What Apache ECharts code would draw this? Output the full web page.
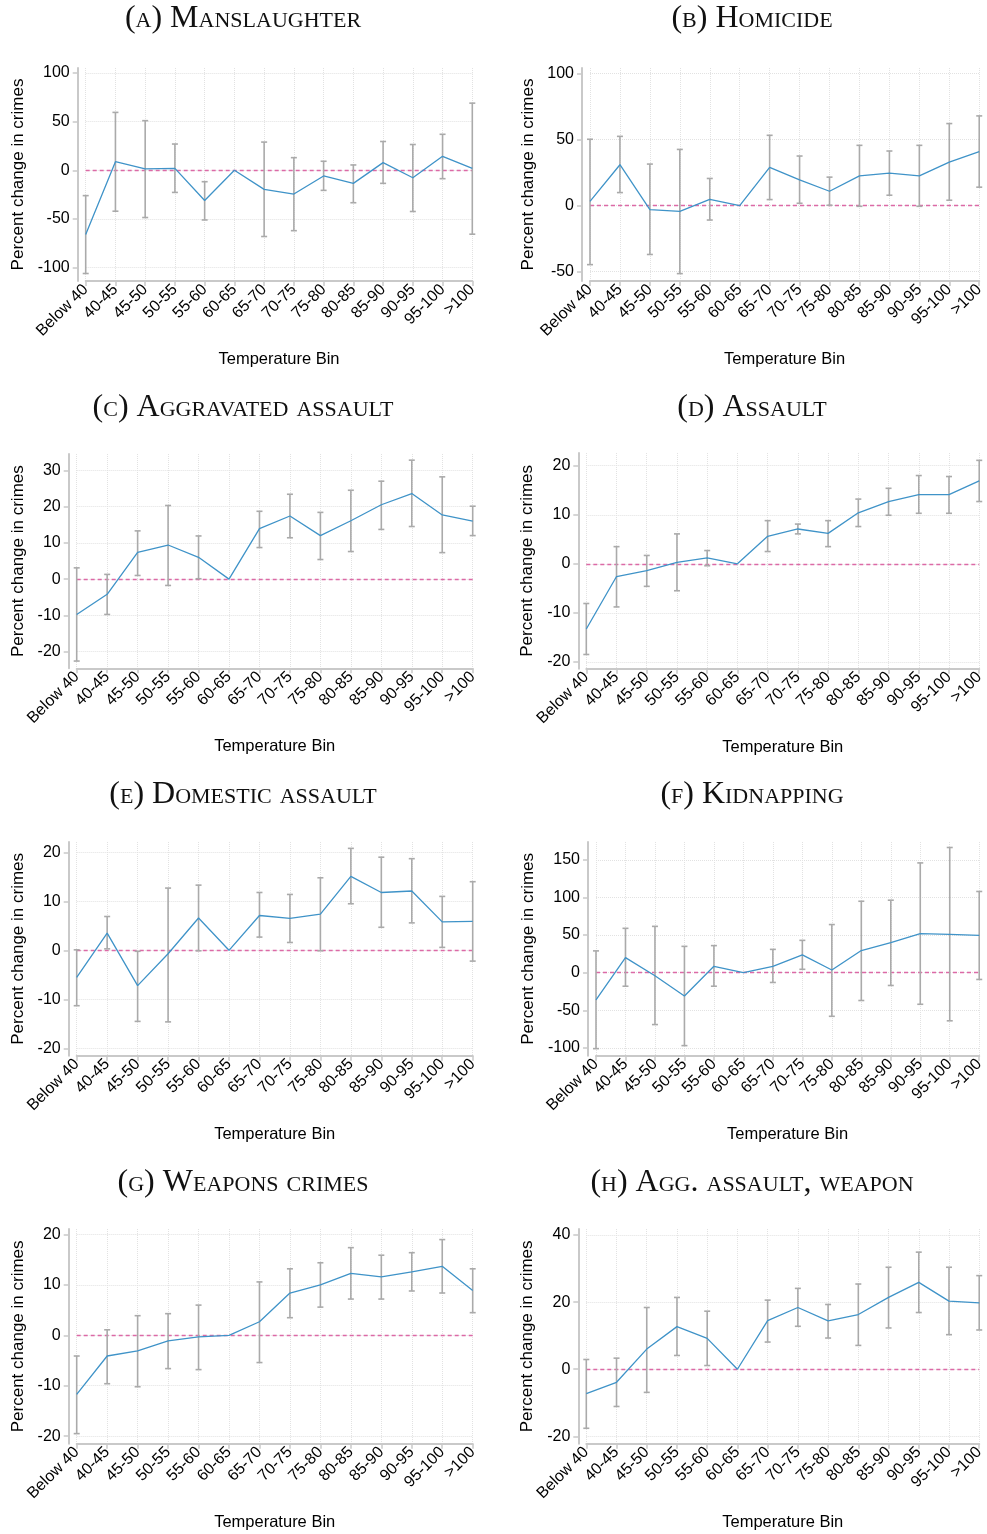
<!DOCTYPE html>
<html>
<head>
<meta charset="utf-8">
<script src="https://cdn.jsdelivr.net/npm/echarts@6/dist/echarts.min.js"></script>
<style>
html,body{margin:0;padding:0;background:#fff;}
#chart{width:987px;height:1534px;}
</style>
</head>
<body>
<div id="chart"></div>
<script>
// ---------- DATA ----------
const categories = ['Below 40','40-45','45-50','50-55','55-60','60-65','65-70','70-75','75-80','80-85','85-90','90-95','95-100','>100'];

const panelTitles = ['(a) Manslaughter','(b) Homicide','(c) Aggravated assault','(d) Assault',
                     '(e) Domestic assault','(f) Kidnapping','(g) Weapons crimes','(h) Agg. assault, weapon'];
const yAxisTitle = 'Percent change in crimes';
const xAxisTitle = 'Temperature Bin';

// (a) Manslaughter
const manslaughterEst = [-66, 8.9, 1.4, 2, -31, 0, -19.6, -24.4, -5.8, -13.4, 7.9, -7.6, 14.4, 2];
const manslaughterLo  = [-106, -42, -48.5, -22.7, -51, null, -68, -62, -20.6, -33.3, -13.4, -42.3, -8.6, -65.6];
const manslaughterHi  = [-26, 59.5, 51, 27, -11.7, null, 29, 13, 9.3, 5.5, 29.6, 26.5, 37, 69];
const manslaughterTicks = [-100, -50, 0, 50, 100];

// (b) Homicide
const homicideEst = [3.3, 31, -3, -4.3, 4.8, 0, 29, 19.5, 10.9, 22.6, 24.6, 22.6, 33, 40.9];
const homicideLo  = [-44.7, 9.9, -37, -51.5, -10.9, null, 4.6, 1.8, 0.3, -0.5, 7.9, -0.5, 4.1, 14];
const homicideHi  = [50.3, 52.5, 31.5, 42.6, 20.6, null, 53.3, 37.6, 21.6, 45.7, 41.4, 45.7, 62.2, 68];
const homicideTicks = [-50, 0, 50, 100];

// (c) Aggravated assault
const aggAssaultEst = [-9.75, -4.2, 7.4, 9.4, 6, 0, 13.9, 17.4, 12, 16.1, 20.5, 23.6, 17.7, 16];
const aggAssaultLo  = [-22.6, -9.75, 1.0, -1.75, 0.1, null, 8.7, 11.4, 5.4, 7.6, 13.7, 14.5, 7.3, 12];
const aggAssaultHi  = [3.1, 1.3, 13.3, 20.3, 11.9, null, 18.7, 23.4, 18.4, 24.5, 27, 32.8, 28.2, 20.1];
const aggAssaultTicks = [-20, -10, 0, 10, 20, 30];

// (d) Assault
const assaultEst = [-13.3, -2.6, -1.4, 0.3, 1.2, 0, 5.6, 7.1, 6.2, 10.4, 12.7, 14.1, 14.1, 16.9];
const assaultLo  = [-18.5, -8.8, -4.6, -5.5, -0.4, null, 2.5, 6.1, 3.5, 7.6, 9.9, 10.3, 10.3, 12.7];
const assaultHi  = [-8.1, 3.5, 1.7, 6.1, 2.7, null, 8.8, 8.1, 8.8, 13.2, 15.4, 18, 17.8, 21.1];
const assaultTicks = [-20, -10, 0, 10, 20];

// (e) Domestic assault
const domesticEst = [-5.5, 3.5, -7.2, -0.7, 6.6, 0, 7.1, 6.5, 7.4, 15.1, 11.8, 12.1, 5.8, 5.9];
const domesticLo  = [-11.3, 0.3, -14.5, -14.6, -0.1, null, 2.7, 1.6, -0.1, 9.5, 4.7, 5.6, 0.6, -2.2];
const domesticHi  = [0.1, 6.9, -0.2, 12.7, 13.3, null, 11.8, 11.4, 14.8, 20.8, 19, 18.7, 11, 14];
const domesticTicks = [-20, -10, 0, 10, 20];

// (f) Kidnapping
const kidnappingEst = [-36, 20, -4, -31, 8.5, 0, 8.5, 23.7, 3.6, 29.5, 40, 52, 51, 49.5];
const kidnappingLo  = [-101, -18, -69, -97, -18, null, -13, 4.5, -58, -37, -17, -42, -64, -9];
const kidnappingHi  = [29, 59, 61.6, 35, 36, null, 31, 43, 64, 95, 96.4, 146, 166.5, 108];
const kidnappingTicks = [-100, -50, 0, 50, 100, 150];

// (g) Weapons crimes
const weaponsEst = [-11.7, -4.1, -3.1, -1.1, -0.3, 0, 2.7, 8.4, 10, 12.3, 11.6, 12.6, 13.7, 8.9];
const weaponsLo  = [-19.5, -9.6, -10.2, -6.6, -6.8, null, -5.4, 3.5, 5.6, 7.2, 7.2, 8.8, 8.4, 4.5];
const weaponsHi  = [-4.1, 1.1, 3.9, 4.3, 6, null, 10.6, 13.2, 14.4, 17.4, 15.9, 16.4, 19, 13.2];
const weaponsTicks = [-20, -10, 0, 10, 20];

// (h) Agg. assault, weapon
const aggWeaponEst = [-7.3, -3.9, 6, 12.7, 9.2, 0, 14.5, 18.4, 14.4, 16.3, 21.4, 25.9, 20.3, 19.8];
const aggWeaponLo  = [-17.6, -11.1, -6.9, 4.1, 1.1, null, 8.1, 12.8, 9.3, 7.1, 12.3, 16.9, 10.3, 11.7];
const aggWeaponHi  = [2.9, 3.3, 18.4, 21.4, 17.3, null, 20.6, 24.1, 19.3, 25.4, 30.4, 34.9, 30.4, 27.9];
const aggWeaponTicks = [-20, 0, 20, 40];

const panelEst = [manslaughterEst, homicideEst, aggAssaultEst, assaultEst, domesticEst, kidnappingEst, weaponsEst, aggWeaponEst];
const panelLo  = [manslaughterLo, homicideLo, aggAssaultLo, assaultLo, domesticLo, kidnappingLo, weaponsLo, aggWeaponLo];
const panelHi  = [manslaughterHi, homicideHi, aggAssaultHi, assaultHi, domesticHi, kidnappingHi, weaponsHi, aggWeaponHi];
const panelTicks = [manslaughterTicks, homicideTicks, aggAssaultTicks, assaultTicks, domesticTicks, kidnappingTicks, weaponsTicks, aggWeaponTicks];

// ---------- LAYOUT (positions / axis extents) ----------
const layout = [
  {left: 85.7, right: 514.7, top: 68,   height: 213,   ymin: -113.7, ymax: 105.1, yGap: 51, tx: 243, ty: 19},
  {left: 590,  right: 4.7,   top: 68,   height: 213,   ymin: -57.1,  ymax: 104.3, yGap: 45, tx: 752, ty: 19},
  {left: 76.7, right: 514.3, top: 454,  height: 214.3, ymin: -24.6,  ymax: 34.5,  yGap: 42, tx: 243, ty: 408},
  {left: 586.3,right: 4.7,   top: 453,  height: 215.7, ymin: -21.4,  ymax: 22.6,  yGap: 42, tx: 752, ty: 408},
  {left: 76.7, right: 514.3, top: 842,  height: 213.7, ymin: -21.5,  ymax: 22.1,  yGap: 42, tx: 243, ty: 795},
  {left: 596,  right: 4.7,   top: 842,  height: 213.7, ymin: -110.4, ymax: 173.8, yGap: 51, tx: 752, ty: 795},
  {left: 76.7, right: 514.3, top: 1229, height: 214.7, ymin: -21.5,  ymax: 21.1,  yGap: 42, tx: 243, ty: 1183},
  {left: 586.3,right: 4.7,   top: 1229, height: 214.7, ymin: -22.2,  ymax: 41.8,  yGap: 42, tx: 752, ty: 1183}
];

const AXIS_GRAY = '#c9c9c9';
const GRID_GRAY = '#e2e2e2';
const LINE_BLUE = '#3f93c8';
const BAR_GRAY = '#aaaaaa';
const ZERO_PINK = '#dc6aa6';
const SANS = 'Liberation Sans, Arial, sans-serif';

const grids = [], xAxes = [], yAxes = [], series = [], graphics = [];

layout.forEach((L, i) => {
  grids.push({left: L.left, right: L.right, top: L.top, height: L.height, containLabel: false});
  xAxes.push({
    type: 'category', gridIndex: i, data: categories, boundaryGap: false,
    name: xAxisTitle, nameLocation: 'middle', nameGap: 70,
    nameTextStyle: {fontFamily: SANS, fontSize: 16.5, color: '#000'},
    axisLine: {show: true, onZero: false, lineStyle: {color: AXIS_GRAY, width: 2}},
    axisTick: {show: true, length: 5, alignWithLabel: true, lineStyle: {color: AXIS_GRAY, width: 1.5}},
    axisLabel: {rotate: 45, margin: 6, interval: 0, fontFamily: SANS, fontSize: 16, color: '#000'},
    splitLine: {show: true, lineStyle: {color: GRID_GRAY, type: 'dotted', width: 1}}
  });
  yAxes.push({
    type: 'value', gridIndex: i, min: L.ymin, max: L.ymax, offset: 8,
    name: yAxisTitle, nameLocation: 'middle', nameGap: L.yGap,
    nameTextStyle: {fontFamily: SANS, fontSize: 17, color: '#000'},
    axisLine: {show: true, onZero: false, lineStyle: {color: AXIS_GRAY, width: 2}},
    axisTick: {show: true, length: 5, customValues: panelTicks[i], lineStyle: {color: AXIS_GRAY, width: 1.5}},
    axisLabel: {customValues: panelTicks[i], margin: 8, fontFamily: SANS, fontSize: 16, color: '#000',
                showMinLabel: true, showMaxLabel: true},
    splitLine: {show: true, lineStyle: {color: GRID_GRAY, type: 'dotted', width: 1}}
  });

  const lo = panelLo[i], hi = panelHi[i];
  const barData = [];
  categories.forEach((c, j) => { if (lo[j] != null) barData.push([j, lo[j], hi[j]]); });

  series.push({
    type: 'custom', xAxisIndex: i, yAxisIndex: i, z: 7, silent: true,
    data: barData,
    renderItem: function (params, api) {
      const x = api.value(0);
      const pLo = api.coord([x, api.value(1)]);
      const pHi = api.coord([x, api.value(2)]);
      const w = 3;
      const st = {stroke: BAR_GRAY, lineWidth: 1.6};
      return {type: 'group', children: [
        {type: 'line', shape: {x1: pLo[0], y1: pLo[1], x2: pHi[0], y2: pHi[1]}, style: st},
        {type: 'line', shape: {x1: pLo[0] - w, y1: pLo[1], x2: pLo[0] + w, y2: pLo[1]}, style: st},
        {type: 'line', shape: {x1: pHi[0] - w, y1: pHi[1], x2: pHi[0] + w, y2: pHi[1]}, style: st}
      ]};
    }
  });
  series.push({
    type: 'line', xAxisIndex: i, yAxisIndex: i, z: 8,
    data: panelEst[i], symbol: 'none', showSymbol: false,
    lineStyle: {color: LINE_BLUE, width: 1.3},
    markLine: {
      silent: true, symbol: 'none', label: {show: false}, z: 5,
      lineStyle: {color: ZERO_PINK, type: [4, 3], width: 1.3},
      data: [{yAxis: 0}]
    }
  });

  graphics.push({
    type: 'text', x: L.tx, y: L.ty,
    style: {
      text: panelTitles[i],
      font: 'small-caps 32px "Liberation Serif", "DejaVu Serif", serif',
      fill: '#111', textAlign: 'center', textVerticalAlign: 'middle'
    }
  });
});

const chart = echarts.init(document.getElementById('chart'), null, {renderer: 'canvas'});
chart.setOption({
  animation: false,
  backgroundColor: '#fff',
  grid: grids, xAxis: xAxes, yAxis: yAxes, series: series,
  graphic: graphics
});
</script>
</body>
</html>
